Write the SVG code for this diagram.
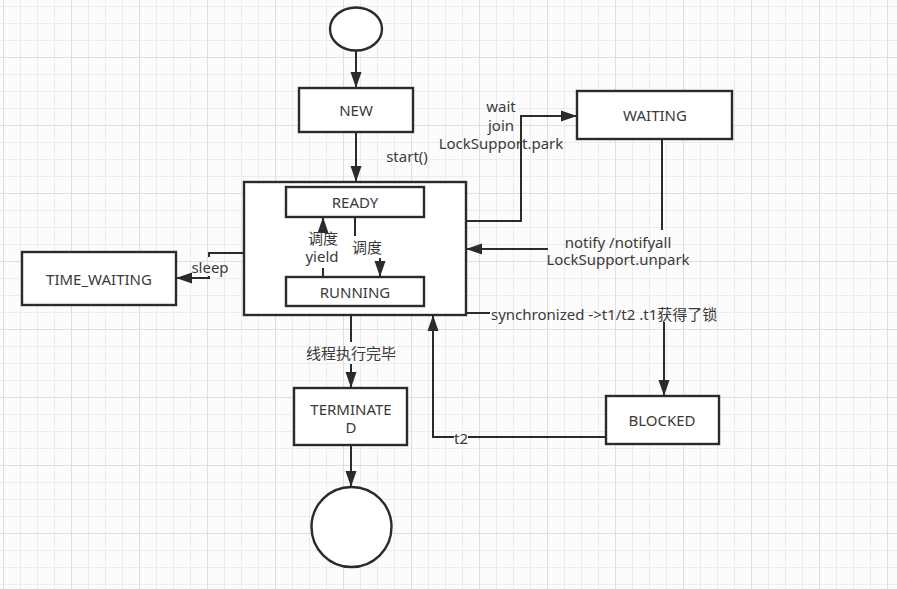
<svg xmlns="http://www.w3.org/2000/svg" width="897" height="589" viewBox="0 0 897 589">
<defs>
<pattern id="minor" patternUnits="userSpaceOnUse" x="3" y="6" width="17" height="17">
<path d="M0.5,0 V17 M0,0.5 H17" fill="none" stroke="#ececec" stroke-width="1"/>
</pattern>
<pattern id="major" patternUnits="userSpaceOnUse" x="3" y="57" width="68" height="68">
<path d="M0.5,0 V68 M0,0.5 H68" fill="none" stroke="#dedede" stroke-width="1"/>
</pattern>
<marker id="arr" markerUnits="userSpaceOnUse" markerWidth="17" markerHeight="12" refX="16" refY="6" orient="auto">
<path d="M0,0.5 L16,6 L0,11.5 z" fill="#2b2b2b"/>
</marker>
<style>
.box{fill:#ffffff;stroke:#2b2b2b;stroke-width:2.4}
.ln{fill:none;stroke:#2b2b2b;stroke-width:2}
.t{font-family:"Noto Sans","Noto Sans CJK SC",sans-serif;font-size:15px;fill:#3a3a3a;text-anchor:middle;dominant-baseline:central}
.lb{font-family:"Noto Sans","Noto Sans CJK SC",sans-serif;font-size:15px;fill:#3a3a3a;text-anchor:middle;dominant-baseline:central}
</style>
</defs>
<rect width="897" height="589" fill="#fcfcfc"/>
<rect width="897" height="589" fill="url(#minor)"/>
<rect width="897" height="589" fill="url(#major)"/>

<g id="outer"><rect class="box" x="244" y="182" width="222" height="133"/></g>

<g id="connectors">
<path class="ln" d="M356,51 V88" marker-end="url(#arr)"/>
<path class="ln" d="M356,132 V182" marker-end="url(#arr)"/>
<path class="ln" d="M466,221 H521 V116 H577" marker-end="url(#arr)"/>
<path class="ln" d="M662,139 V230"/>
<path class="ln" d="M548,249 H466" marker-end="url(#arr)"/>
<path class="ln" d="M244,253 H209 V257"/>
<path class="ln" d="M209,276 V278 H176" marker-end="url(#arr)"/>
<path class="ln" d="M323,277 V268"/>
<path class="ln" d="M323,228 V217" marker-end="url(#arr)"/>
<path class="ln" d="M355,217 V236"/>
<path class="ln" d="M380,258 V277" marker-end="url(#arr)"/>
<path class="ln" d="M466,313 H490"/>
<path class="ln" d="M664,322 V396" marker-end="url(#arr)"/>
<path class="ln" d="M606,437 H468"/>
<path class="ln" d="M454,437 H433 V315" marker-end="url(#arr)"/>
<path class="ln" d="M351,315 V342"/>
<path class="ln" d="M351,364 V388" marker-end="url(#arr)"/>
<path class="ln" d="M351,445 V487" marker-end="url(#arr)"/>
</g>

<g id="start"><ellipse class="box" cx="356" cy="29" rx="26" ry="21.5"/></g>
<g id="new"><rect class="box" x="299" y="88" width="114" height="44"/><text class="t" x="356" y="110">NEW</text></g>
<g id="waiting"><rect class="box" x="577" y="91" width="155" height="48"/><text class="t" x="655" y="115">WAITING</text></g>
<g id="ready"><rect class="box" x="286" y="187" width="138" height="30"/><text class="t" x="355" y="202">READY</text></g>
<g id="running"><rect class="box" x="286" y="277" width="138" height="29"/><text class="t" x="355" y="292">RUNNING</text></g>
<g id="time_waiting"><rect class="box" x="22" y="252" width="154" height="53"/><text class="t" x="99" y="279">TIME_WAITING</text></g>
<g id="blocked"><rect class="box" x="606" y="396" width="113" height="48"/><text class="t" x="662" y="420">BLOCKED</text></g>
<g id="terminated"><rect class="box" x="294" y="388" width="113" height="57"/><text class="t" x="351" y="409">TERMINATE</text><text class="t" x="351" y="427">D</text></g>
<g id="end"><circle class="box" cx="351.5" cy="527" r="40"/></g>

<g id="labels">
<text class="lb" x="407" y="156">start()</text>
<text class="lb" x="501" y="106">wait</text>
<text class="lb" x="501" y="125">join</text>
<text class="lb" x="501" y="143">LockSupport.park</text>
<text class="lb" x="618" y="242">notify /notifyall</text>
<text class="lb" x="618" y="259">LockSupport.unpark</text>
<text class="lb" x="323" y="238">调度</text>
<text class="lb" x="322" y="256">yield</text>
<text class="lb" x="367" y="247">调度</text>
<text class="lb" x="210" y="267">sleep</text>
<text class="lb" x="491" y="314" style="text-anchor:start">synchronized -&gt;t1/t2 .t1获得了锁</text>
<text class="lb" x="461" y="438">t2</text>
<text class="lb" x="351" y="353">线程执行完毕</text>
</g>
</svg>
